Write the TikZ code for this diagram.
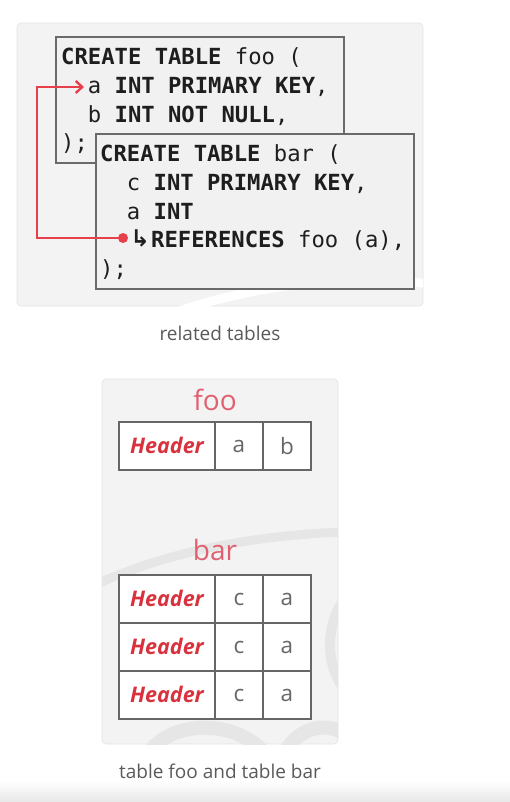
\documentclass[tikz,border=0pt]{standalone}
\usepackage{fontspec}
\usetikzlibrary{arrows.meta,shadings}
\setmainfont{Open Sans}
\newfontfamily\monof{DejaVu Sans Mono}
\newfontfamily\symf{DejaVu Sans}
\definecolor{panelbg}{HTML}{F3F3F3}
\definecolor{panelline}{HTML}{E4E4E4}
\definecolor{boxbg}{HTML}{F1F1F1}
\definecolor{boxline}{HTML}{6A6A6A}
\definecolor{codecol}{HTML}{1E1E1E}
\definecolor{arrowred}{HTML}{E8404A}
\definecolor{hdrred}{HTML}{D8323E}
\definecolor{titlered}{HTML}{E06070}
\definecolor{cellgray}{HTML}{666666}
\definecolor{capgray}{HTML}{5A5A5A}
\definecolor{wmark}{HTML}{E6E6E6}
\tikzset{
  panel/.style={draw=panelline, fill=panelbg, rounded corners=4pt, line width=0.6pt},
  codebox/.style={draw=boxline, fill=boxbg, line width=1.2pt},
  code/.style={anchor=base west, inner sep=0pt, font=\monof\fontsize{22.2}{24}\selectfont, text=codecol},
  caption/.style={font=\fontsize{19}{22}\selectfont, text=capgray, inner sep=0pt},
  ttitle/.style={font=\fontsize{28}{30}\selectfont, text=titlered, inner sep=0pt},
  cell/.style={draw=cellgray, fill=white, line width=1.8pt, minimum height=48pt, inner sep=0pt, outer sep=0pt,
    font=\fontsize{22.5}{24}\selectfont, text=cellgray},
  hdrcell/.style={cell, minimum width=96pt, text height=15pt, text depth=0pt,
    font=\bfseries\itshape\fontsize{21.5}{24}\selectfont, text=hdrred},
  valcell/.style={cell, minimum width=48pt, text height=12.5pt, text depth=0pt},
  fk/.style={draw=arrowred, line width=2.4pt}
}
\begin{document}
\begin{tikzpicture}[x=1pt,y=-1pt]
\useasboundingbox (0,0) rectangle (510,802);
\fill[white] (0,0) rectangle (510,802);
\shade[top color=white, bottom color=black!9] (0,780) rectangle (510,802);

% ---------- top panel ----------
\draw[panel] (17,23) rectangle (423,306);
\begin{scope}
\clip (17,23) rectangle (423,306);
\draw[white, line width=9pt] (160,318) .. controls (260,280) and (360,275) .. (440,285);
\end{scope}

\draw[codebox] (56,37) rectangle (344,163);
\node[code] (foo1) at (61,65)  {\textbf{CREATE TABLE} foo (};
\node[code] (foo2) at (61,94)  {\ \ a \textbf{INT PRIMARY KEY},};
\node[code] (foo3) at (61,122.5) {\ \ b \textbf{INT NOT NULL},};
\node[code] (foo4) at (61,151) {);};

\draw[codebox] (96,134) rectangle (414,289);
\node[code] (bar1) at (100,162) {\textbf{CREATE TABLE} bar (};
\node[code] (bar2) at (100,191) {\ \ c \textbf{INT PRIMARY KEY},};
\node[code] (bar3) at (100,219.5) {\ \ a \textbf{INT}};
\node[code, font=\symf\bfseries\fontsize{23}{24}\selectfont] (hook) at (130.5,246) {↳};
\node[code] (bar4) at (151,247.5) {\textbf{REFERENCES} foo (a),};
\node[code] (bar5) at (100,276) {);};

\coordinate (dotR) at (123,238);
\coordinate (tipA) at (84,87);
\draw[fk, -{Straight Barb[length=6.5pt,width=12pt,line width=2.4pt]}]
  (dotR) -- (37,238) |- (tipA);
\fill[arrowred] (dotR) circle (5pt);

\node[caption] (cap1) at (220,333) {related tables};

% ---------- bottom panel ----------
\draw[panel] (102,379) rectangle (338,744);
\begin{scope}
\clip (102,379) rectangle (338,744);
\draw[wmark, line width=9pt] (95,585) .. controls (170,550) and (260,535) .. (345,532);
\draw[wmark, line width=10pt] (345,598) .. controls (325,625) and (325,665) .. (345,690);
\draw[wmark, line width=14pt] (150,752) .. controls (170,722) and (230,718) .. (262,750);
\draw[wmark, line width=14pt] (285,752) .. controls (300,725) and (330,722) .. (345,735);
\end{scope}

\node[ttitle] (footitle) at (215,400) {foo};
\node[hdrcell, anchor=north west] (fh) at (119,422) {Header};
\node[valcell, anchor=west] (fa) at (fh.east) {a};
\node[valcell, anchor=west, text height=16pt] (fb) at (fa.east) {b};

\node[ttitle] (bartitle) at (215,550) {bar};
\node[hdrcell, anchor=north west] (bh1) at (119,575) {Header};
\node[valcell, anchor=west] (bc1) at (bh1.east) {c};
\node[valcell, anchor=west] (ba1) at (bc1.east) {a};
\node[hdrcell, anchor=north] (bh2) at (bh1.south) {Header};
\node[valcell, anchor=west] (bc2) at (bh2.east) {c};
\node[valcell, anchor=west] (ba2) at (bc2.east) {a};
\node[hdrcell, anchor=north] (bh3) at (bh2.south) {Header};
\node[valcell, anchor=west] (bc3) at (bh3.east) {c};
\node[valcell, anchor=west] (ba3) at (bc3.east) {a};

\node[caption] (cap2) at (220,771) {table foo and table bar};
\end{tikzpicture}
\end{document}
